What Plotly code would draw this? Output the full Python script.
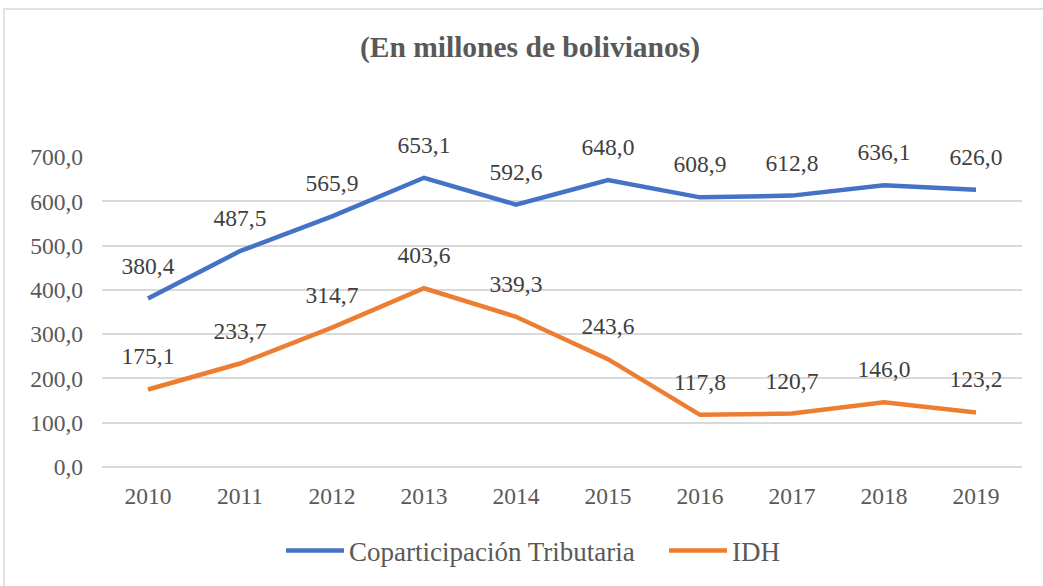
import plotly.graph_objects as go

years = ["2010", "2011", "2012", "2013", "2014", "2015", "2016", "2017", "2018", "2019"]
copart = [380.4, 487.5, 565.9, 653.1, 592.6, 648.0, 608.9, 612.8, 636.1, 626.0]
idh = [175.1, 233.7, 314.7, 403.6, 339.3, 243.6, 117.8, 120.7, 146.0, 123.2]
series_names = ["Coparticipación Tributaria", "IDH"]
colors = ["#4472C4", "#ED7D31"]
yticks = [0, 100, 200, 300, 400, 500, 600, 700]

FONT = "Liberation Serif, Times New Roman, serif"
W, H = 1043, 586
L, R, T, B = 102, 21, 157, 119

fig = go.Figure()
for name, vals, col in zip(series_names, [copart, idh], colors):
    fig.add_trace(go.Scatter(x=years, y=vals, mode="lines", name=name,
                             line=dict(color=col, width=4.5)))
# data labels
for vals in [copart, idh]:
    fig.add_trace(go.Scatter(x=years, y=vals, mode="markers+text", showlegend=False,
                             hoverinfo="skip", cliponaxis=False,
                             marker=dict(size=29, opacity=0),
                             texttemplate="%{y:.1f}", textposition="top center",
                             textfont=dict(family=FONT, size=23.5, color="#404040")))

pw = W - L - R
ph = H - T - B
fig.update_layout(
    width=W, height=H,
    margin=dict(l=L, r=R, t=T, b=B, autoexpand=False),
    paper_bgcolor="white", plot_bgcolor="white",
    separators=",.",
    font=dict(family=FONT, color="#595959", size=23.5),
    title=dict(text="<b>(En millones de bolivianos)</b>", x=530/W, xanchor="center",
               xref="container", yref="container", y=1-47/H, yanchor="middle",
               font=dict(family=FONT, size=29.5, color="#595959")),
    showlegend=True,
    legend=dict(orientation="h", xref="container", yref="container",
                x=(291-10)/W, xanchor="left", y=1-551/H, yanchor="middle",
                font=dict(family=FONT, size=27, color="#595959"),
                itemwidth=58, entrywidth=310, entrywidthmode="pixels",
                tracegroupgap=0),
    shapes=[dict(type="rect", xref="paper", yref="paper",
                 x0=(4-L)/pw, x1=(W+3-L)/pw,
                 y0=(H-B-H-4)/ph, y1=(H-B-9)/ph,
                 line=dict(color="#D9D9D9", width=1.5), layer="below")],
)
fig.update_xaxes(type="category", range=[-0.5, 9.5], showgrid=False, showline=False,
                 ticks="", ticklabelstandoff=12, automargin=False,
                 tickfont=dict(family=FONT, size=23.5, color="#595959"))
fig.update_yaxes(range=[0, 700], tickvals=yticks, tickformat=".1f", showgrid=True,
                 gridcolor="#D9D9D9", gridwidth=1.5, zeroline=True, zerolinecolor="#D9D9D9",
                 zerolinewidth=1.5, showline=False, ticks="", ticklabelstandoff=18,
                 automargin=False,
                 tickfont=dict(family=FONT, size=23.5, color="#595959"))

fig.write_html("out.html", config={"displayModeBar": False},
               post_script="document.body.style.margin='0';document.body.style.padding='0';")
